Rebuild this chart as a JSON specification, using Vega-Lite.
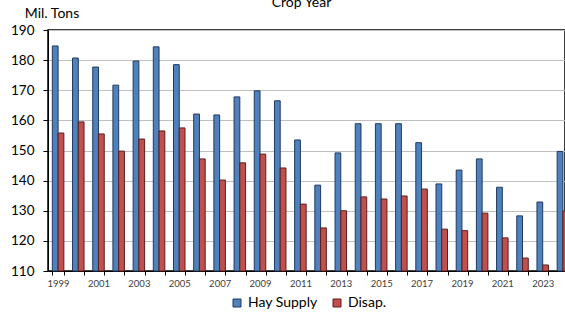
{
  "$schema": "https://vega.github.io/schema/vega-lite/v6.json",
  "autosize": "none",
  "width": 517,
  "height": 241,
  "padding": {"left": 48, "top": 30, "right": 0, "bottom": 42},
  "background": "white",
  "config": {
    "font": "Lato",
    "view": {"stroke": "#000000", "strokeWidth": 1.5},
    "axis": {"labelFont": "Lato", "titleFont": "Lato"},
    "legend": {"labelFont": "Lato"}
  },
  "data": {
    "values": [
      {"year": 1999, "series": "Hay Supply", "value": 184.7}, {"year": 1999, "series": "Disap.", "value": 155.8},
      {"year": 2000, "series": "Hay Supply", "value": 180.7}, {"year": 2000, "series": "Disap.", "value": 159.5},
      {"year": 2001, "series": "Hay Supply", "value": 177.7}, {"year": 2001, "series": "Disap.", "value": 155.5},
      {"year": 2002, "series": "Hay Supply", "value": 171.7}, {"year": 2002, "series": "Disap.", "value": 149.8},
      {"year": 2003, "series": "Hay Supply", "value": 179.7}, {"year": 2003, "series": "Disap.", "value": 153.8},
      {"year": 2004, "series": "Hay Supply", "value": 184.4}, {"year": 2004, "series": "Disap.", "value": 156.5},
      {"year": 2005, "series": "Hay Supply", "value": 178.5}, {"year": 2005, "series": "Disap.", "value": 157.5},
      {"year": 2006, "series": "Hay Supply", "value": 162.1}, {"year": 2006, "series": "Disap.", "value": 147.2},
      {"year": 2007, "series": "Hay Supply", "value": 161.8}, {"year": 2007, "series": "Disap.", "value": 140.2},
      {"year": 2008, "series": "Hay Supply", "value": 167.8}, {"year": 2008, "series": "Disap.", "value": 145.9},
      {"year": 2009, "series": "Hay Supply", "value": 169.8}, {"year": 2009, "series": "Disap.", "value": 148.8},
      {"year": 2010, "series": "Hay Supply", "value": 166.5}, {"year": 2010, "series": "Disap.", "value": 144.2},
      {"year": 2011, "series": "Hay Supply", "value": 153.5}, {"year": 2011, "series": "Disap.", "value": 132.2},
      {"year": 2012, "series": "Hay Supply", "value": 138.5}, {"year": 2012, "series": "Disap.", "value": 124.3},
      {"year": 2013, "series": "Hay Supply", "value": 149.2}, {"year": 2013, "series": "Disap.", "value": 130.0},
      {"year": 2014, "series": "Hay Supply", "value": 158.9}, {"year": 2014, "series": "Disap.", "value": 134.6},
      {"year": 2015, "series": "Hay Supply", "value": 158.9}, {"year": 2015, "series": "Disap.", "value": 133.9},
      {"year": 2016, "series": "Hay Supply", "value": 158.9}, {"year": 2016, "series": "Disap.", "value": 134.9},
      {"year": 2017, "series": "Hay Supply", "value": 152.6}, {"year": 2017, "series": "Disap.", "value": 137.2},
      {"year": 2018, "series": "Hay Supply", "value": 138.9}, {"year": 2018, "series": "Disap.", "value": 123.9},
      {"year": 2019, "series": "Hay Supply", "value": 143.5}, {"year": 2019, "series": "Disap.", "value": 123.4},
      {"year": 2020, "series": "Hay Supply", "value": 147.2}, {"year": 2020, "series": "Disap.", "value": 129.2},
      {"year": 2021, "series": "Hay Supply", "value": 137.8}, {"year": 2021, "series": "Disap.", "value": 121.0},
      {"year": 2022, "series": "Hay Supply", "value": 128.3}, {"year": 2022, "series": "Disap.", "value": 114.3},
      {"year": 2023, "series": "Hay Supply", "value": 132.9}, {"year": 2023, "series": "Disap.", "value": 112.0},
      {"year": 2024, "series": "Hay Supply", "value": 149.7}, {"year": 2024, "series": "Disap.", "value": 129.9}
    ]
  },
  "mark": {"type": "bar", "strokeWidth": 1, "clip": false},
  "encoding": {
    "x": {
      "field": "year", "type": "ordinal",
      "scale": {"range": [0, 525], "paddingInner": 0.43, "paddingOuter": 0.215},
      "axis": {
        "title": "Crop Year", "titleX": 253, "titleY": -265, "titleAlign": "center", "titleBaseline": "alphabetic",
        "titleFontSize": 14, "titleFontWeight": "normal", "titleColor": "#000000",
        "labelAngle": 0, "labelFontSize": 9.5, "labelColor": "#404040", "labelPadding": 3,
        "labelExpr": "datum.value % 2 == 1 ? datum.label : ''",
        "tickBand": "extent", "tickSize": 4, "tickColor": "#000000", "domainColor": "#000000", "grid": false
      }
    },
    "xOffset": {"field": "series", "type": "nominal", "sort": ["Hay Supply", "Disap."], "scale": {"paddingInner": 0, "paddingOuter": 0}},
    "y": {
      "field": "value", "type": "quantitative",
      "scale": {"domain": [110, 190], "zero": false, "nice": false},
      "axis": {
        "title": "Mil. Tons", "titleX": 3.5, "titleY": -13, "titleAngle": 0, "titleAlign": "center", "titleBaseline": "alphabetic",
        "titleFontSize": 14, "titleFontWeight": "normal", "titleColor": "#000000",
        "values": [110, 120, 130, 140, 150, 160, 170, 180, 190],
        "tickCount": 9,
        "labelOverlap": false, "labelFlush": false,
        "labelFontSize": 13.5, "labelColor": "#000000", "labelPadding": 9,
        "tickSize": 5, "tickColor": "#000000", "domainColor": "#000000",
        "gridColor": "#BFBFBF", "gridWidth": 1
      }
    },
    "y2": {"datum": 110},
    "fill": {
      "field": "series", "type": "nominal", "sort": ["Hay Supply", "Disap."],
      "scale": {"domain": ["Hay Supply", "Disap."], "range": ["#4F81BD", "#C0504D"]},
      "legend": {
        "title": null, "orient": "none", "legendX": 182, "legendY": 266, "direction": "horizontal",
        "symbolType": "square", "symbolSize": 64, "symbolStrokeWidth": 1, "symbolStrokeColor": "#333333",
        "labelFontSize": 14, "labelColor": "#000000", "columnPadding": 12, "labelOffset": 4
      }
    },
    "stroke": {
      "field": "series", "type": "nominal",
      "scale": {"domain": ["Hay Supply", "Disap."], "range": ["#1F3A5F", "#5C1E1C"]},
      "legend": null
    }
  }
}
